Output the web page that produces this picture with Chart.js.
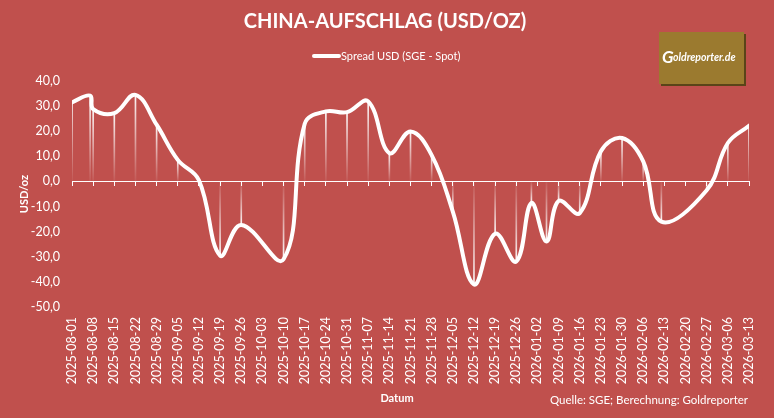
<!doctype html>
<html lang="de">
  <head>
    <meta charset="UTF-8" />
    <title>China-Aufschlag (USD/oz)</title>
    <script src="https://cdn.jsdelivr.net/npm/chart.js"></script>
    <style>
      html,
      body {
        margin: 0;
        padding: 0;
        background: #c0504d;
      }
      #chart {
        display: block;
      }
    </style>
  </head>
  <body>
    <canvas id="chart" width="774" height="418"></canvas>

    <script>
      // Spread SGE - Spot in USD/oz
      const spreadDates = [
        '2025-08-01', '2025-08-07', '2025-08-08', '2025-08-15', '2025-08-22',
        '2025-08-29', '2025-09-05', '2025-09-12', '2025-09-19', '2025-09-26',
        '2025-10-10', '2025-10-17', '2025-10-24', '2025-10-31', '2025-11-07',
        '2025-11-14', '2025-11-21', '2025-11-28', '2025-12-05', '2025-12-12',
        '2025-12-19', '2025-12-26', '2025-12-31', '2026-01-05', '2026-01-09',
        '2026-01-16', '2026-01-23', '2026-01-30', '2026-02-06', '2026-02-12',
        '2026-02-27', '2026-03-06', '2026-03-13',
      ];
      const spreadValues = [
        31.5, 34.2, 28.8, 27.2, 34.5,
        22.6, 8.6, 0.5, -29.5, -17.3,
        -31.0, 23.0, 27.9, 27.6, 31.9,
        11.3, 19.9, 10.5, -12.0, -41.0,
        -20.8, -31.9, -8.6, -23.9, -7.8,
        -12.6, 12.0, 17.3, 8.0, -16.0,
        -3.5, 15.3, 22.2,
      ];

      // weekly axis labels
      const tickLabels = [
        '2025-08-01', '2025-08-08', '2025-08-15', '2025-08-22', '2025-08-29',
        '2025-09-05', '2025-09-12', '2025-09-19', '2025-09-26', '2025-10-03',
        '2025-10-10', '2025-10-17', '2025-10-24', '2025-10-31', '2025-11-07',
        '2025-11-14', '2025-11-21', '2025-11-28', '2025-12-05', '2025-12-12',
        '2025-12-19', '2025-12-26', '2026-01-02', '2026-01-09', '2026-01-16',
        '2026-01-23', '2026-01-30', '2026-02-06', '2026-02-13', '2026-02-20',
        '2026-02-27', '2026-03-06', '2026-03-13',
      ];

      const yMin = -50;
      const yMax = 40;
      const yStep = 10;

      const BG = '#c0504d';
      const WHITE = '#ffffff';
      const FONT = 'Lato';

      const dayZero = Date.parse(tickLabels[0] + 'T00:00:00Z');
      function dayIndex(s) {
        return (Date.parse(s + 'T00:00:00Z') - dayZero) / 86400000;
      }

      const points = spreadDates.map((d, i) => ({ x: dayIndex(d), y: spreadValues[i] }));
      const tickDays = tickLabels.map(dayIndex);
      const xMax = tickDays[tickDays.length - 1];

      function weeklyTicks(scale) {
        scale.ticks = tickDays.map((v) => ({ value: v }));
      }

      // faded drop line from the zero line up/down to the point
      function dropColor(ctx) {
        const chart = ctx.chart;
        if (!chart.chartArea || !ctx.parsed) return 'rgba(255,255,255,0.6)';
        const y = chart.scales.y;
        const y0 = y.getPixelForValue(0);
        const y1 = y.getPixelForValue(ctx.parsed.y);
        const g = chart.ctx.createLinearGradient(0, y0, 0, y1 === y0 ? y0 + 1 : y1);
        g.addColorStop(0, 'rgba(255,255,255,0.05)');
        g.addColorStop(1, 'rgba(255,255,255,0.95)');
        return g;
      }

      const decor = {
        id: 'decor',
        beforeDraw(chart) {
          const c = chart.ctx;
          c.save();
          c.fillStyle = BG;
          c.fillRect(0, 0, chart.width, chart.height);
          c.restore();
        },
        afterDraw(chart) {
          const c = chart.ctx;
          c.save();
          c.fillStyle = WHITE;
          c.textBaseline = 'middle';

          // title
          c.font = 'bold 20px ' + FONT;
          c.textAlign = 'center';
          c.fillText('CHINA-AUFSCHLAG (USD/OZ)', 385, 22);

          // legend
          c.strokeStyle = WHITE;
          c.lineWidth = 4;
          c.lineCap = 'round';
          c.beginPath();
          c.moveTo(314, 56);
          c.lineTo(339, 56);
          c.stroke();
          c.font = '11px ' + FONT;
          c.textAlign = 'left';
          c.fillText('Spread USD (SGE - Spot)', 341, 56);

          // logo
          c.fillStyle = '#5a4418';
          c.fillRect(661, 34, 85, 52);
          c.fillStyle = '#9b7a2f';
          c.fillRect(659, 32, 85, 52);
          c.fillStyle = WHITE;
          c.font = 'italic bold 17px ' + FONT;
          c.textBaseline = 'alphabetic';
          c.fillText('G', 662, 63);
          c.font = 'italic bold 10.5px ' + FONT;
          c.fillText('oldreporter.de', 673, 61);

          // axis title + source
          c.textBaseline = 'middle';
          c.font = 'bold 11px ' + FONT;
          c.textAlign = 'center';
          c.fillText('Datum', 397, 398);
          c.font = '11.5px ' + FONT;
          c.textAlign = 'right';
          c.fillText('Quelle: SGE; Berechnung: Goldreporter', 748, 400);
          c.restore();
        },
      };

      new Chart(document.getElementById('chart'), {
        type: 'line',
        data: {
          datasets: [
            {
              label: 'Spread USD (SGE - Spot)',
              data: points,
              borderColor: WHITE,
              borderWidth: 4,
              borderCapStyle: 'round',
              borderJoinStyle: 'round',
              pointRadius: 0,
              tension: 0.4,
              fill: false,
              order: 0,
            },
            {
              type: 'bar',
              label: 'drop',
              data: points,
              backgroundColor: dropColor,
              borderWidth: 0,
              barThickness: 1,
              order: 1,
            },
          ],
        },
        options: {
          responsive: false,
          animation: false,
          devicePixelRatio: 1,
          layout: { padding: { top: 81, right: 22, left: 0, bottom: 0 } },
          plugins: {
            legend: { display: false },
            title: { display: false },
            tooltip: { enabled: false },
          },
          scales: {
            x: {
              type: 'linear',
              min: 0,
              max: xMax,
              offset: false,
              grid: { display: false, drawTicks: false },
              border: { display: false },
              afterBuildTicks: weeklyTicks,
              afterFit: (s) => {
                s.height = 111;
              },
              ticks: {
                autoSkip: false,
                minRotation: 90,
                maxRotation: 90,
                padding: 10,
                color: WHITE,
                font: { family: FONT, size: 12.5 },
                callback: (v, i) => tickLabels[i],
              },
            },
            xZero: {
              type: 'linear',
              axis: 'x',
              position: { y: 0 },
              min: 0,
              max: xMax,
              offset: false,
              afterBuildTicks: weeklyTicks,
              grid: {
                drawOnChartArea: false,
                drawTicks: true,
                tickLength: 4,
                color: WHITE,
                lineWidth: 1,
              },
              border: { display: true, color: WHITE, width: 1 },
              ticks: { display: false },
            },
            y: {
              type: 'linear',
              min: yMin,
              max: yMax,
              grid: { display: false, drawTicks: false },
              border: { display: false },
              afterFit: (s) => {
                s.width = 72;
              },
              ticks: {
                stepSize: yStep,
                padding: 12,
                color: WHITE,
                font: { family: FONT, size: 12.5 },
                callback: (v) => v.toFixed(1).replace('.', ','),
              },
              title: {
                display: true,
                text: 'USD/oz',
                color: WHITE,
                font: { family: FONT, size: 11, weight: 'bold' },
                padding: { top: 18, bottom: 0 },
              },
            },
          },
        },
        plugins: [decor],
      });
    </script>
  </body>
</html>
